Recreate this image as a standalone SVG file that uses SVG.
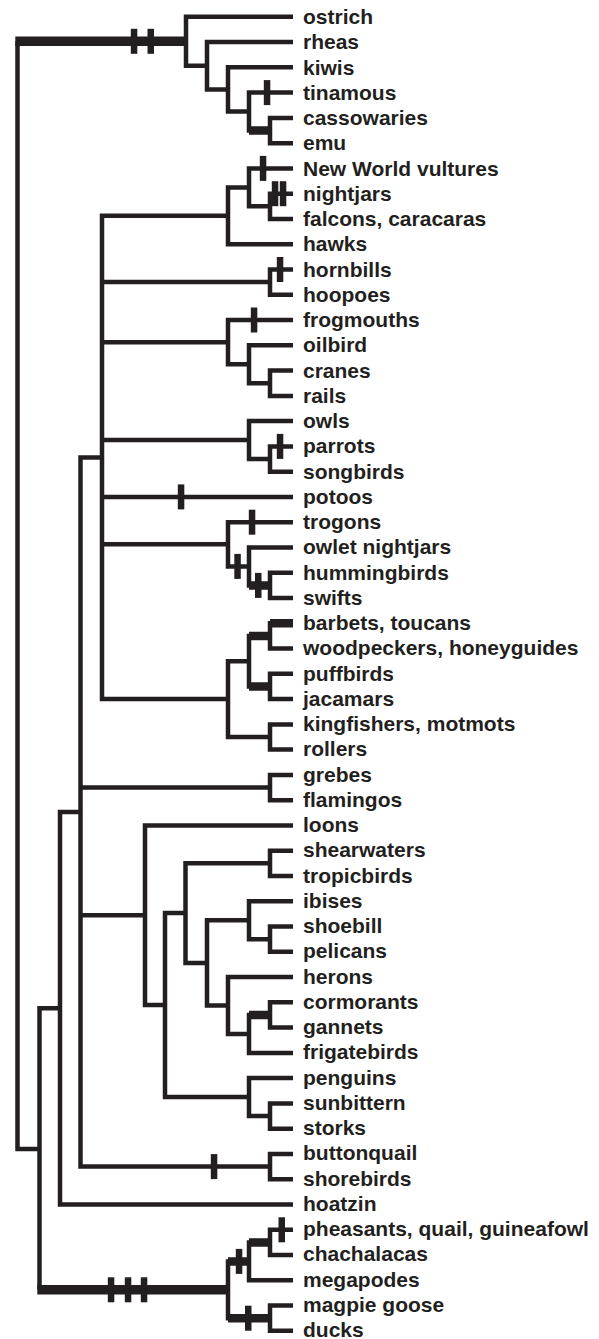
<svg xmlns="http://www.w3.org/2000/svg" width="599" height="1339" viewBox="0 0 599 1339">
<style>
.e{fill:none;stroke:#231f20;stroke-width:4.5;stroke-linejoin:miter;stroke-linecap:butt}
.t{fill:none;stroke:#231f20;stroke-width:8.5;stroke-linecap:butt}
.T{fill:none;stroke:#231f20;stroke-width:9.5;stroke-linecap:butt}
.k{fill:#231f20}
text{font-family:"Liberation Sans",Arial,Helvetica,sans-serif;font-weight:bold;font-size:21px;fill:#231f20}
</style>
<rect width="599" height="1339" fill="#fff"/>
<g id="connectors">
<path class="e" d="M17.5,41.3 V1149 H39.5"/>
<path class="T" d="M15.3,41.3 H186"/>
<path class="e" d="M293,117.9 H270 V143.2 H293"/>
<path class="e" d="M293,92.6 H249 V130.5 H270"/>
<path class="e" d="M293,67.3 H228 V111.6 H249"/>
<path class="e" d="M293,42.1 H207 V89.5 H228"/>
<path class="e" d="M293,16.8 H186 V65.8 H207"/>
<path class="e" d="M293,193.7 H270 V219 H293"/>
<path class="e" d="M293,168.4 H249 V206.3 H270"/>
<path class="e" d="M249,187.4 H228 V244.2 H293"/>
<path class="e" d="M293,269.5 H270 V294.8 H293"/>
<path class="e" d="M293,370.6 H270 V395.9 H293"/>
<path class="e" d="M293,345.3 H249 V383.2 H270"/>
<path class="e" d="M293,320 H228 V364.3 H249"/>
<path class="e" d="M293,446.4 H270 V471.7 H293"/>
<path class="e" d="M293,421.1 H249 V459 H270"/>
<path class="e" d="M293,572.7 H270 V598 H293"/>
<path class="e" d="M293,547.5 H249 V585.4 H270"/>
<path class="e" d="M293,522.2 H228 V566.4 H249"/>
<path class="e" d="M293,623.3 H270 V648.6 H293"/>
<path class="e" d="M293,673.8 H270 V699.1 H293"/>
<path class="e" d="M270,635.9 H249 V686.5 H270"/>
<path class="e" d="M293,724.4 H270 V749.6 H293"/>
<path class="e" d="M249,661.2 H228 V737 H270"/>
<path class="e" d="M228,215.8 H102 V699.1 H228 M102,282.1 H270 M102,342.2 H228 M102,440.1 H249 M102,496.9 H293 M102,544.3 H228"/>
<path class="e" d="M293,774.9 H270 V800.2 H293"/>
<path class="e" d="M293,850.7 H270 V876 H293"/>
<path class="e" d="M293,926.5 H270 V951.8 H293"/>
<path class="e" d="M293,901.3 H249 V939.2 H270"/>
<path class="e" d="M293,1002.3 H270 V1027.6 H293"/>
<path class="e" d="M270,1015 H249 V1052.9 H293"/>
<path class="e" d="M293,977.1 H228 V1033.9 H249"/>
<path class="e" d="M249,920.2 H207 V1005.5 H228"/>
<path class="e" d="M270,863.3 H185.5 V962.9 H207"/>
<path class="e" d="M293,1103.4 H270 V1128.7 H293"/>
<path class="e" d="M293,1078.1 H249 V1116 H270"/>
<path class="e" d="M185.5,913.1 H165 V1097.1 H249"/>
<path class="e" d="M293,825.4 H145 V1005.1 H165"/>
<path class="e" d="M293,1154 H270 V1179.2 H293"/>
<path class="e" d="M102,457.5 H80.5 V1166.6 H270 M80.5,787.5 H270 M80.5,915.3 H145"/>
<path class="e" d="M80.5,812 H60 V1204.5 H293"/>
<path class="e" d="M60,1008.3 H39.5 V1289.8"/>
<path class="e" d="M293,1229.8 H270 V1255 H293"/>
<path class="e" d="M270,1242.4 H249 V1280.3 H293"/>
<path class="e" d="M293,1305.6 H270 V1330.8 H293"/>
<path class="e" d="M249,1261.4 H228 V1318.2 H270"/>
<path class="T" d="M37.3,1289.8 H228"/>
<path class="t" d="M249,130.5 H270 M249,585.4 H270 M249,635.9 H270 M270,623.3 H293 M249,686.5 H270 M249,1015 H270 M228,1261.4 H249 M249,1242.4 H270 M228,1318.2 H270"/>
<g class="k">
<rect x="130.8" y="28.8" width="6.5" height="25"/>
<rect x="147.5" y="28.8" width="6.5" height="25"/>
<rect x="263.8" y="80.1" width="6.5" height="25"/>
<rect x="259.8" y="155.9" width="6.5" height="25"/>
<rect x="271.8" y="181.2" width="6.5" height="25"/>
<rect x="279.8" y="181.2" width="6.5" height="25"/>
<rect x="276.8" y="257" width="6.5" height="25"/>
<rect x="250.8" y="307.5" width="6.5" height="25"/>
<rect x="276.8" y="433.9" width="6.5" height="25"/>
<rect x="177.8" y="484.4" width="6.5" height="25"/>
<rect x="248.8" y="509.7" width="6.5" height="25"/>
<rect x="234.3" y="553.9" width="6.5" height="25"/>
<rect x="255" y="572.9" width="6.5" height="25"/>
<rect x="210.8" y="1154.1" width="6.5" height="25"/>
<rect x="107.8" y="1277.3" width="6.5" height="25"/>
<rect x="124.8" y="1277.3" width="6.5" height="25"/>
<rect x="140.8" y="1277.3" width="6.5" height="25"/>
<rect x="235.8" y="1248.9" width="6.5" height="25"/>
<rect x="278.5" y="1217.3" width="6.5" height="25"/>
<rect x="245" y="1305.7" width="6.5" height="25"/>
</g>
</g>
<g id="n-ostrich"><text x="303" y="24">ostrich</text></g>
<g id="n-rheas"><text x="303" y="49.25">rheas</text></g>
<g id="n-kiwis"><text x="303" y="74.5">kiwis</text></g>
<g id="n-tinamous"><text x="303" y="99.75">tinamous</text></g>
<g id="n-cassowaries"><text x="303" y="125">cassowaries</text></g>
<g id="n-emu"><text x="303" y="150.25">emu</text></g>
<g id="n-nwv"><text x="303" y="175.5">New World vultures</text></g>
<g id="n-nightjars"><text x="303" y="200.75">nightjars</text></g>
<g id="n-falcons"><text x="303" y="226">falcons, caracaras</text></g>
<g id="n-hawks"><text x="303" y="251.25">hawks</text></g>
<g id="n-hornbills"><text x="303" y="276.5">hornbills</text></g>
<g id="n-hoopoes"><text x="303" y="301.75">hoopoes</text></g>
<g id="n-frogmouths"><text x="303" y="327">frogmouths</text></g>
<g id="n-oilbird"><text x="303" y="352.25">oilbird</text></g>
<g id="n-cranes"><text x="303" y="377.5">cranes</text></g>
<g id="n-rails"><text x="303" y="402.75">rails</text></g>
<g id="n-owls"><text x="303" y="428">owls</text></g>
<g id="n-parrots"><text x="303" y="453.25">parrots</text></g>
<g id="n-songbirds"><text x="303" y="478.5">songbirds</text></g>
<g id="n-potoos"><text x="303" y="503.75">potoos</text></g>
<g id="n-trogons"><text x="303" y="529">trogons</text></g>
<g id="n-owletnightjars"><text x="303" y="554.25">owlet nightjars</text></g>
<g id="n-hummingbirds"><text x="303" y="579.5">hummingbirds</text></g>
<g id="n-swifts"><text x="303" y="604.75">swifts</text></g>
<g id="n-barbets"><text x="303" y="630">barbets, toucans</text></g>
<g id="n-woodpeckers"><text x="303" y="655.25">woodpeckers, honeyguides</text></g>
<g id="n-puffbirds"><text x="303" y="680.5">puffbirds</text></g>
<g id="n-jacamars"><text x="303" y="705.75">jacamars</text></g>
<g id="n-kingfishers"><text x="303" y="731">kingfishers, motmots</text></g>
<g id="n-rollers"><text x="303" y="756.25">rollers</text></g>
<g id="n-grebes"><text x="303" y="781.5">grebes</text></g>
<g id="n-flamingos"><text x="303" y="806.75">flamingos</text></g>
<g id="n-loons"><text x="303" y="832">loons</text></g>
<g id="n-shearwaters"><text x="303" y="857.25">shearwaters</text></g>
<g id="n-tropicbirds"><text x="303" y="882.5">tropicbirds</text></g>
<g id="n-ibises"><text x="303" y="907.75">ibises</text></g>
<g id="n-shoebill"><text x="303" y="933">shoebill</text></g>
<g id="n-pelicans"><text x="303" y="958.25">pelicans</text></g>
<g id="n-herons"><text x="303" y="983.5">herons</text></g>
<g id="n-cormorants"><text x="303" y="1008.75">cormorants</text></g>
<g id="n-gannets"><text x="303" y="1034">gannets</text></g>
<g id="n-frigatebirds"><text x="303" y="1059.25">frigatebirds</text></g>
<g id="n-penguins"><text x="303" y="1084.5">penguins</text></g>
<g id="n-sunbittern"><text x="303" y="1109.75">sunbittern</text></g>
<g id="n-storks"><text x="303" y="1135">storks</text></g>
<g id="n-buttonquail"><text x="303" y="1160.25">buttonquail</text></g>
<g id="n-shorebirds"><text x="303" y="1185.5">shorebirds</text></g>
<g id="n-hoatzin"><text x="303" y="1210.75">hoatzin</text></g>
<g id="n-pheasants"><text x="303" y="1236">pheasants, quail, guineafowl</text></g>
<g id="n-chachalacas"><text x="303" y="1261.25">chachalacas</text></g>
<g id="n-megapodes"><text x="303" y="1286.5">megapodes</text></g>
<g id="n-magpiegoose"><text x="303" y="1311.75">magpie goose</text></g>
<g id="n-ducks"><text x="303" y="1337">ducks</text></g>
</svg>
